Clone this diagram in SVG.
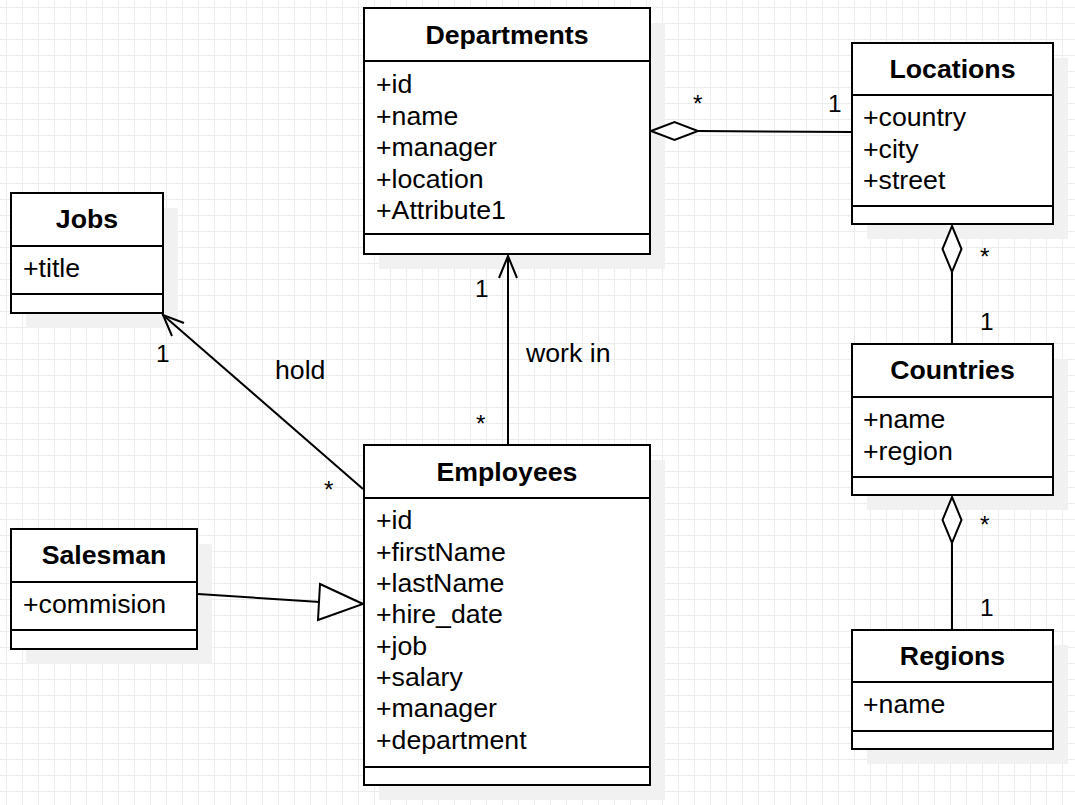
<svg xmlns="http://www.w3.org/2000/svg" width="1075" height="805" viewBox="0 0 1075 805">
<defs>
<pattern id="grid" x="6" y="7" width="16" height="16" patternUnits="userSpaceOnUse">
<path d="M0 0.5H16M0.5 0V16" stroke="#ececec" stroke-width="1" fill="none"/>
</pattern>
<style>
.box{fill:#fff;stroke:#000;stroke-width:2}
.sep{stroke:#000;stroke-width:2;fill:none}
.shadow{fill:#f1f1f1}
.title{font-family:"Liberation Sans",Arial,sans-serif;font-size:26.7px;font-weight:bold;text-anchor:middle;fill:#000}
.attr{font-family:"Liberation Sans",Arial,sans-serif;font-size:26.7px;fill:#000}
.lbl{font-family:"Liberation Sans",Arial,sans-serif;font-size:26.7px;fill:#000}
.mult{font-family:"Liberation Sans",Arial,sans-serif;font-size:24.4px;fill:#000}
.edge{stroke:#000;stroke-width:2;fill:none}
.hollow{stroke:#000;stroke-width:2;fill:#fff}
</style>
</defs>
<rect width="1075" height="805" fill="#fff"/>
<rect width="1075" height="805" fill="url(#grid)"/>

<g id="shadows">
<rect class="shadow" x="379" y="23" width="286" height="246"/>
<rect class="shadow" x="867" y="58" width="201" height="181"/>
<rect class="shadow" x="26" y="208" width="152" height="120"/>
<rect class="shadow" x="867" y="359" width="201" height="151"/>
<rect class="shadow" x="26" y="544" width="186" height="120"/>
<rect class="shadow" x="867" y="645" width="201" height="119"/>
<rect class="shadow" x="379" y="460" width="286" height="340"/>
</g>

<g id="connectors">
<!-- Departments - Locations aggregation -->
<path class="edge" d="M698 131L852 132"/>
<path class="hollow" d="M651 131L674.5 122L698 131L674.5 140Z"/>
<text class="mult" x="693" y="112">*</text>
<text class="mult" x="828" y="112">1</text>
<!-- Locations - Countries -->
<path class="edge" d="M952 272V344"/>
<path class="hollow" d="M952 226L961.5 249L952 272L942.5 249Z"/>
<text class="mult" x="980" y="265">*</text>
<text class="mult" x="980" y="330">1</text>
<!-- Countries - Regions -->
<path class="edge" d="M952 543V630"/>
<path class="hollow" d="M952 497L961.5 520L952 543L942.5 520Z"/>
<text class="mult" x="980" y="533">*</text>
<text class="mult" x="980" y="616">1</text>
<!-- Employees - Departments work in -->
<path class="edge" d="M508 445V256"/>
<path class="edge" d="M499 278L508 256L517 278"/>
<text class="lbl" x="526" y="362">work in</text>
<text class="mult" x="475" y="297">1</text>
<text class="mult" x="476" y="432">*</text>
<!-- Employees - Jobs hold -->
<path class="edge" d="M363 489L163 315"/>
<path class="edge" d="M184 323L163 315L172 336"/>
<text class="lbl" x="275" y="379">hold</text>
<text class="mult" x="156" y="362">1</text>
<text class="mult" x="324" y="498">*</text>
<!-- Salesman - Employees generalization -->
<path class="edge" d="M198 594L320 602"/>
<path class="hollow" d="M320 584L363 604L318 620Z"/>
</g>

<g id="Departments">
<rect class="box" x="364" y="8" width="286" height="246"/>
<path class="sep" d="M364 61H650M364 234H650"/>
<text class="title" x="507" y="44">Departments</text>
<text class="attr" x="376" y="93">+id</text>
<text class="attr" x="376" y="124.5">+name</text>
<text class="attr" x="376" y="156">+manager</text>
<text class="attr" x="376" y="187.5">+location</text>
<text class="attr" x="376" y="219">+Attribute1</text>
</g>

<g id="Locations">
<rect class="box" x="852" y="43" width="201" height="181"/>
<path class="sep" d="M852 95H1053M852 206H1053"/>
<text class="title" x="952.5" y="78">Locations</text>
<text class="attr" x="863" y="126">+country</text>
<text class="attr" x="863" y="157.5">+city</text>
<text class="attr" x="863" y="189">+street</text>
</g>

<g id="Jobs">
<rect class="box" x="11" y="193" width="152" height="120"/>
<path class="sep" d="M11 246H163M11 294H163"/>
<text class="title" x="87" y="228">Jobs</text>
<text class="attr" x="23" y="277">+title</text>
</g>

<g id="Countries">
<rect class="box" x="852" y="344" width="201" height="151"/>
<path class="sep" d="M852 397H1053M852 477H1053"/>
<text class="title" x="952.5" y="379">Countries</text>
<text class="attr" x="863" y="428">+name</text>
<text class="attr" x="863" y="459.5">+region</text>
</g>

<g id="Salesman">
<rect class="box" x="11" y="529" width="186" height="120"/>
<path class="sep" d="M11 582H197M11 630H197"/>
<text class="title" x="104" y="564">Salesman</text>
<text class="attr" x="23" y="613">+commision</text>
</g>

<g id="Regions">
<rect class="box" x="852" y="630" width="201" height="119"/>
<path class="sep" d="M852 682H1053M852 731H1053"/>
<text class="title" x="952.5" y="665">Regions</text>
<text class="attr" x="863" y="713">+name</text>
</g>

<g id="Employees">
<rect class="box" x="364" y="445" width="286" height="340"/>
<path class="sep" d="M364 498H650M364 767H650"/>
<text class="title" x="507" y="481">Employees</text>
<text class="attr" x="376" y="529">+id</text>
<text class="attr" x="376" y="560.5">+firstName</text>
<text class="attr" x="376" y="592">+lastName</text>
<text class="attr" x="376" y="623">+hire_date</text>
<text class="attr" x="376" y="654.5">+job</text>
<text class="attr" x="376" y="686">+salary</text>
<text class="attr" x="376" y="717">+manager</text>
<text class="attr" x="376" y="748.5">+department</text>
</g>
</svg>
